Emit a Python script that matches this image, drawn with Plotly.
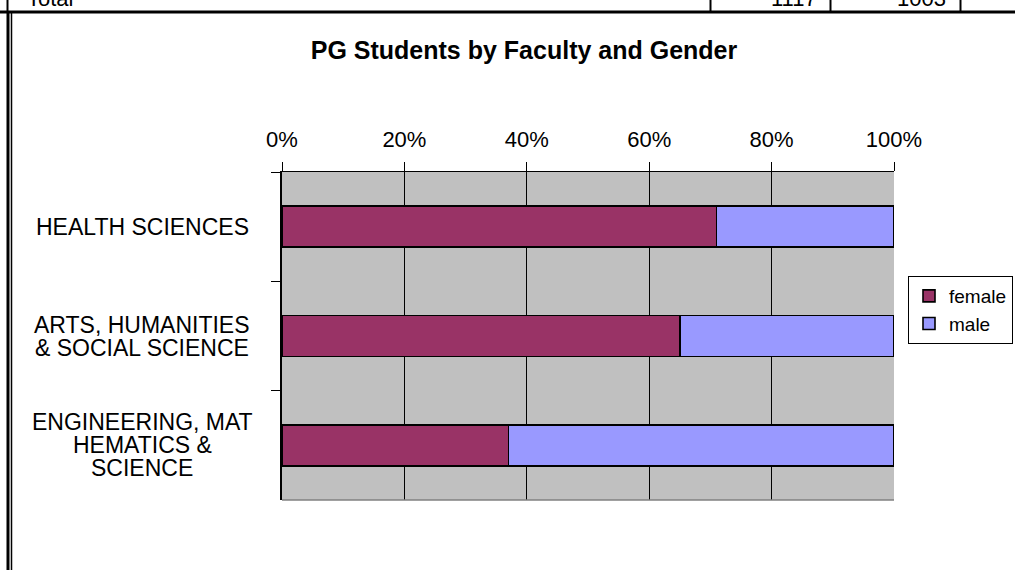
import plotly.graph_objects as go

# ---- data ----
categories = ["HEALTH SCIENCES",
              "ARTS, HUMANITIES<br>& SOCIAL SCIENCE",
              "ENGINEERING, MAT<br>HEMATICS &<br>SCIENCE"]
female_pct = [71, 65, 37]
male_pct = [29, 35, 63]
series_names = ["female", "male"]
x_ticks = [0, 20, 40, 60, 80, 100]
x_tick_labels = ["0%", "20%", "40%", "60%", "80%", "100%"]
table_row = ["Total", "1117", "1003"]
title_text = "PG Students by Faculty and Gender"

# ---- layout geometry (pixels) ----
FW, FH = 1015, 570
L, R, T, B = 282, 894, 172, 500
W, H = R - L, B - T


def px_x(x):
    return (x - L) / W


def px_y(y):
    return (B - y) / H


FONT = "Arial, Liberation Sans, sans-serif"

fig = go.Figure()
fig.add_trace(go.Bar(
    y=categories, x=female_pct, name=series_names[0], orientation="h",
    width=0.375, marker=dict(color="#993366", line=dict(color="black", width=1.6)),
))
fig.add_trace(go.Bar(
    y=categories, x=male_pct, name=series_names[1], orientation="h",
    width=0.375, marker=dict(color="#9999FF", line=dict(color="black", width=1.6)),
))

annotations = []
# category labels, centered, tight line spacing
for cat in categories:
    lines = cat.split("<br>")
    n = len(lines)
    for i, ln in enumerate(lines):
        annotations.append(dict(
            x=px_x(142), xref="paper", y=cat, yref="y",
            text=ln, showarrow=False, xanchor="center", yanchor="middle",
            yshift=((n - 1) / 2 - i) * 23,
            font=dict(family=FONT, size=23, color="black"),
        ))

# table row remnant at top of page
TROW_Y = px_y(13)
annotations.append(dict(x=px_x(25), y=TROW_Y, xref="paper", yref="paper",
                        text=table_row[0], showarrow=False, xanchor="left", yanchor="bottom",
                        font=dict(family=FONT, size=22, color="black")))
annotations.append(dict(x=px_x(819), y=TROW_Y, xref="paper", yref="paper",
                        text=table_row[1], showarrow=False, xanchor="right", yanchor="bottom",
                        font=dict(family=FONT, size=22, color="black")))
annotations.append(dict(x=px_x(948), y=TROW_Y, xref="paper", yref="paper",
                        text=table_row[2], showarrow=False, xanchor="right", yanchor="bottom",
                        font=dict(family=FONT, size=22, color="black")))

shapes = []
# thick horizontal table line
shapes.append(dict(type="line", xref="paper", yref="paper",
                   x0=px_x(0), x1=px_x(FW), y0=px_y(12), y1=px_y(12),
                   line=dict(color="black", width=3)))
# table cell vertical lines
for vx in [7.5, 710.5, 830.5, 960.5]:
    shapes.append(dict(type="line", xref="paper", yref="paper",
                       x0=px_x(vx), x1=px_x(vx), y0=px_y(0), y1=px_y(11),
                       line=dict(color="black", width=2)))
# left double border
shapes.append(dict(type="line", xref="paper", yref="paper",
                   x0=px_x(8), x1=px_x(8), y0=px_y(13), y1=px_y(FH),
                   line=dict(color="black", width=3)))
shapes.append(dict(type="line", xref="paper", yref="paper",
                   x0=px_x(11.5), x1=px_x(11.5), y0=px_y(13), y1=px_y(FH),
                   line=dict(color="black", width=1.5)))
# plot area bottom edge (gray)
shapes.append(dict(type="line", xref="paper", yref="paper",
                   x0=0, x1=1, y0=0, y1=0, line=dict(color="#808080", width=1.5)))

fig.update_layout(
    width=FW, height=FH,
    margin=dict(l=L, r=FW - R, t=T, b=FH - B, pad=0, autoexpand=False),
    paper_bgcolor="white", plot_bgcolor="#C0C0C0",
    barmode="stack",
    font=dict(family=FONT, color="black"),
    title=dict(text=title_text, x=524 / FW, xanchor="center", xref="container",
               y=1 - 50 / FH, yanchor="middle", yref="container",
               font=dict(family=FONT, size=25, color="black", weight="bold")),
    xaxis=dict(range=[0, 100], side="top", tickmode="array",
               tickvals=x_ticks, ticktext=x_tick_labels,
               ticks="outside", ticklen=9, tickcolor="black", tickwidth=1,
               ticklabelstandoff=6,
               showgrid=True, gridcolor="black", gridwidth=1,
               showline=True, linecolor="black", linewidth=1, zeroline=False,
               tickfont=dict(family=FONT, size=22, color="black")),
    yaxis=dict(type="category", autorange="reversed", tickson="boundaries",
               ticks="outside", ticklen=9, tickcolor="black", tickwidth=1,
               showticklabels=False, showgrid=False,
               showline=True, linecolor="black", linewidth=1.5, zeroline=False),
    legend=dict(x=px_x(1013), xanchor="right", y=px_y(276), yanchor="top",
                bordercolor="black", borderwidth=1, bgcolor="white",
                font=dict(family=FONT, size=19, color="black"),
                itemwidth=30, tracegroupgap=0, traceorder="normal"),
    showlegend=True,
    annotations=annotations,
    shapes=shapes,
)

fig.write_html("out.html", config={"displayModeBar": False},
               post_script="document.body.style.margin='0';document.body.style.padding='0';")
